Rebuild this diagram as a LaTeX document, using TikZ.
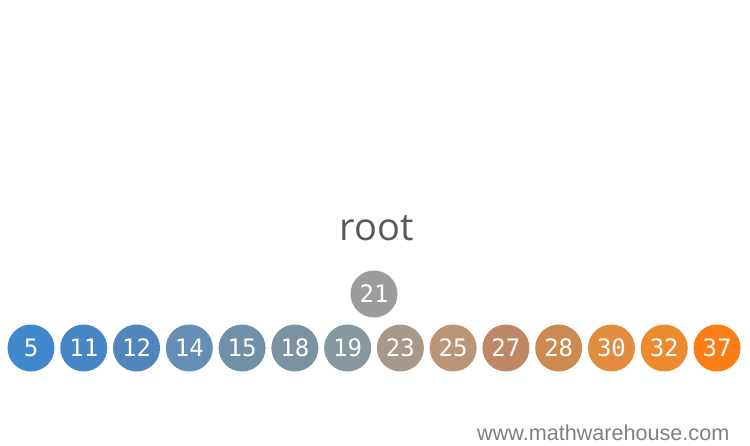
\documentclass[tikz,border=0pt]{standalone}
\usepackage{fontspec}
\setmainfont{Open Sans}
\newfontfamily\keyfont{DejaVu Sans Mono}
\newfontfamily\creditfont{Liberation Sans}
\usetikzlibrary{positioning}

% Key colours, blue to orange
\definecolor{c5}{HTML}{3F88CC}
\definecolor{c11}{HTML}{4686C5}
\definecolor{c12}{HTML}{5086BD}
\definecolor{c14}{HTML}{648EB5}
\definecolor{c15}{HTML}{7090A8}
\definecolor{c18}{HTML}{7A93A2}
\definecolor{c19}{HTML}{86979F}
\definecolor{c21}{HTML}{9C9C9C}
\definecolor{c23}{HTML}{A89888}
\definecolor{c25}{HTML}{BA9577}
\definecolor{c27}{HTML}{BE8866}
\definecolor{c28}{HTML}{CC8A50}
\definecolor{c30}{HTML}{E18C3E}
\definecolor{c32}{HTML}{EE8A2E}
\definecolor{c37}{HTML}{FC7D16}
\definecolor{labelgray}{HTML}{595959}
\definecolor{creditgray}{HTML}{808080}

\begin{document}
\begin{tikzpicture}[
    x=1pt, y=1pt,
    key/.style={circle, minimum size=47pt, inner sep=0pt, text=white,
        font=\keyfont\fontsize{24}{24}\selectfont} % Set key circle style
]

    \useasboundingbox (0,0) rectangle (750,445);

    % Label
    \node[text=labelgray, font=\fontsize{38}{38}\selectfont] (root) at (377,217) {root};

    % Key being placed
    \node[key, fill=c21] (n21) at (374,151) {21};

    % Sorted keys
    \foreach \k [count=\i from 0] in {5,11,12,14,15,18,19,23,25,27,28,30,32,37}
        \node[key, fill=c\k] (n\k) at (31+52.77*\i, 97) {\k};

    % Credit line
    \node[anchor=base west, inner sep=0pt, text=creditgray,
        font=\creditfont\fontsize{21.6}{21.6}\selectfont] (credit) at (477,5) {www.mathwarehouse.com};

\end{tikzpicture}
\end{document}
